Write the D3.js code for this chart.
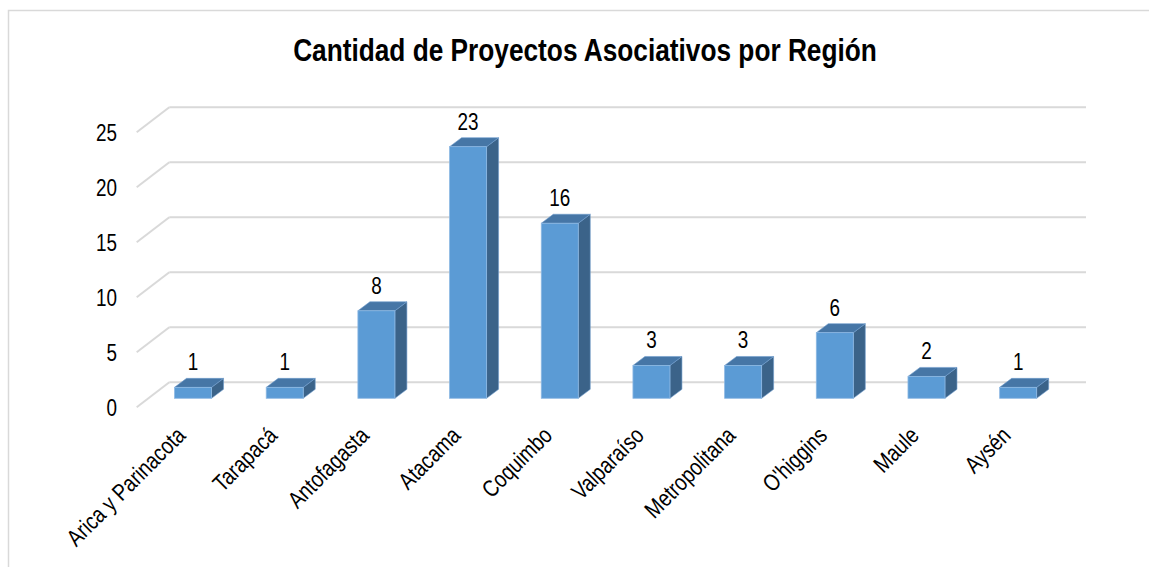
<!DOCTYPE html>
<html>
<head>
<meta charset="utf-8">
<script src="https://cdn.jsdelivr.net/npm/d3@7"></script>
<style>
  html, body { margin:0; padding:0; background:#fff; }
  svg { display:block; }
</style>
</head>
<body>
<div id="chart"></div>
<script>
/* Cantidad de Proyectos Asociativos por Región - Excel-style 3D column chart */
var TITLE = "Cantidad de Proyectos Asociativos por Región";
var regions = ["Arica y Parinacota","Tarapacá","Antofagasta","Atacama","Coquimbo",
               "Valparaíso","Metropolitana","O'higgins","Maule","Aysén"];
var proyectos = [1, 1, 8, 23, 16, 3, 3, 6, 2, 1];
var yTicks = [0, 5, 10, 15, 20, 25];

(function () {
  "use strict";
  var W = 1149, H = 567;
  var FRONT = "#5B9BD5", TOP = "#4676A6", SIDE = "#3B6389", GRID = "#D9D9D9";

  // is the narrow face installed? compare against two generic fallbacks
  var cv = document.createElement("canvas").getContext("2d");
  function wid(f){ cv.font = "40px " + f; return cv.measureText("Cantidad de Proyectos 0123").width; }
  var HAS_NARROW = wid("'Liberation Sans Narrow', monospace") !== wid("monospace") ||
                   wid("'Liberation Sans Narrow', serif") !== wid("serif");
  var FONT = HAS_NARROW ? "'Liberation Sans Narrow', 'Arial Narrow', sans-serif"
                        : "'Liberation Sans', Arial, sans-serif";
  function narrow(sel){
    if (HAS_NARROW) return;
    sel.each(function(){
      var w = this.getComputedTextLength();
      this.setAttribute("textLength", (w * 0.82).toFixed(1));
      this.setAttribute("lengthAdjust", "spacingAndGlyphs");
    });
  }

  var svg = d3.select("#chart").append("svg").attr("width", W).attr("height", H)
    .style("font-family", FONT);

  // chart frame (right and bottom edges fall outside the crop)
  svg.append("rect").attr("x", 8.5).attr("y", 10.5).attr("width", W + 10).attr("height", H + 10)
    .attr("fill", "#fff").attr("stroke", GRID).attr("stroke-width", 1.5);

  // back wall scales + floor depth
  var yBack = d3.scaleLinear().domain([0, 25]).range([382.3, 107.3]);
  var wallX0 = 169.3, wallX1 = 1086, DX = 32.6, DY = 25;
  // front plane of the bars
  var x = d3.scaleBand().domain(regions).range([147.2, 1064]);
  var yFront = d3.scaleLinear().domain([0, 25]).range([398.3, 124.8]);
  var BW = 37, BDX = 12, BDY = -9;

  var g = svg.append("g");
  yTicks.forEach(function (t) {
    var yb = yBack(t);
    g.append("line").attr("x1", wallX0).attr("x2", wallX1).attr("y1", yb).attr("y2", yb)
      .attr("stroke", GRID).attr("stroke-width", 2);
    g.append("line").attr("x1", wallX0 - DX).attr("y1", yb + DY).attr("x2", wallX0).attr("y2", yb)
      .attr("stroke", GRID).attr("stroke-width", 2);
    g.append("text").attr("x", 117).attr("y", yb + DY).attr("dy", "0.36em")
      .attr("text-anchor", "end").attr("font-size", 23).attr("fill", "#000").text(t)
      .call(narrow);
  });

  // bars
  regions.forEach(function (r, i) {
    var v = proyectos[i];
    var x0 = x(r) + x.bandwidth() / 2 - BW / 2, x1 = x0 + BW;
    var yt = yFront(v), y0 = yFront(0);
    var bar = g.append("g");
    bar.append("path").attr("fill", SIDE).attr("stroke", "#6f9ccc").attr("stroke-width", 0.6)
      .attr("d", d3.line()([[x1, y0], [x1 + BDX, y0 + BDY], [x1 + BDX, yt + BDY], [x1, yt]]) + "Z");
    bar.append("path").attr("fill", TOP).attr("stroke", "#6f9ccc").attr("stroke-width", 0.6)
      .attr("d", d3.line()([[x0, yt], [x0 + BDX, yt + BDY], [x1 + BDX, yt + BDY], [x1, yt]]) + "Z");
    bar.append("rect").attr("x", x0).attr("y", yt).attr("width", BW).attr("height", y0 - yt)
      .attr("fill", FRONT).attr("stroke", "#8DB8E3").attr("stroke-width", 0.8);
    g.append("text").attr("x", x0 + BW / 2).attr("y", yt - 17).attr("text-anchor", "middle")
      .attr("font-size", 23).attr("fill", "#000").text(v).call(narrow);
  });

  // category labels, rotated 45 degrees
  regions.forEach(function (r) {
    var cx = x(r) + x.bandwidth() / 2;
    g.append("text").attr("transform", "translate(" + (cx - 12) + ",431) rotate(-45)")
      .attr("text-anchor", "end").attr("dy", "0.35em").attr("font-size", 23.5).attr("fill", "#000")
      .text(r).call(narrow);
  });

  svg.append("text").attr("x", 585).attr("y", 61).attr("text-anchor", "middle")
    .attr("font-size", 32).attr("font-weight", "bold").attr("fill", "#000").text(TITLE)
    .call(narrow);
})();
</script>
</body>
</html>
